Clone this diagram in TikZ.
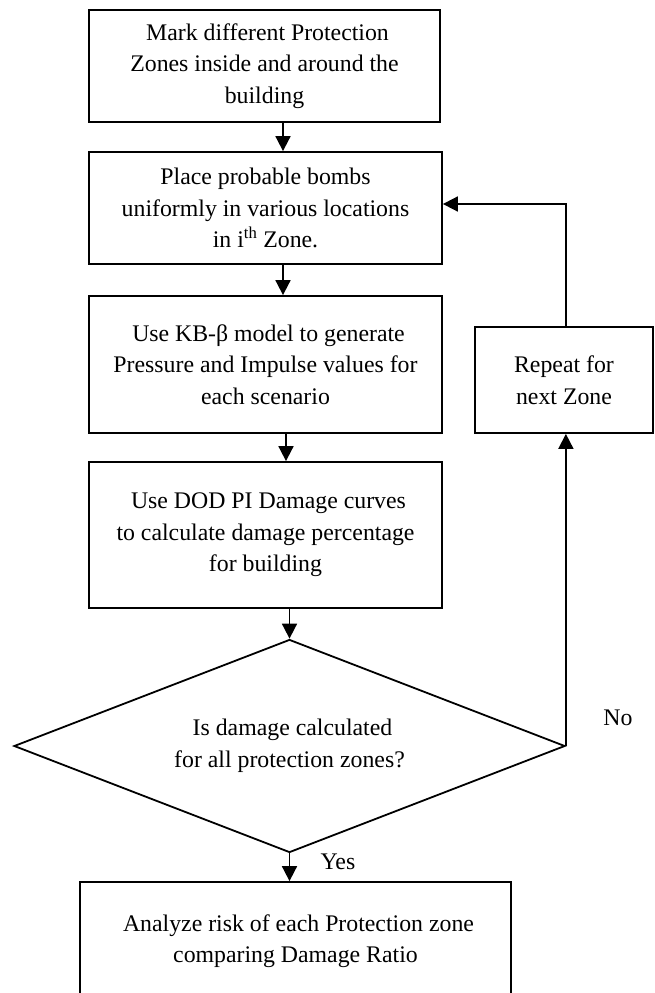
\documentclass[tikz,border=0pt]{standalone}
\usepackage{fontspec}
\setmainfont{Liberation Serif}
\usetikzlibrary{arrows.meta,shapes.geometric}
\begin{document}
\begin{tikzpicture}[x=1pt,y=-1pt,
  every node/.style={font=\fontsize{23.8}{31.5}\selectfont},
  box/.style={draw,line width=1.8pt,rectangle,align=center,inner sep=0pt},
  arr/.style={line width=1.8pt,-{Triangle[length=15pt,width=15pt]}}]
\useasboundingbox (0,0) rectangle (654,993);
\clip (0,0) rectangle (654,993);
\node[box,minimum width=351pt,minimum height=112pt] (b1) at (264.5,66)
  {\hspace*{6pt}Mark different Protection\\Zones inside and around the\\building};
\node[box,minimum width=353pt,minimum height=112pt] (b2) at (265.5,208)
  {Place probable bombs\\uniformly in various locations\\in i\textsuperscript{th} Zone.};
\node[box,minimum width=353pt,minimum height=137pt] (b3) at (265.5,364.5)
  {\hspace*{6pt}Use KB-β model to generate\\Pressure and Impulse values for\\each scenario};
\node[box,minimum width=353pt,minimum height=146pt] (b4) at (265.5,535)
  {\hspace*{6pt}Use DOD PI Damage curves\\to calculate damage percentage\\for building};
\node[box,minimum width=178pt,minimum height=106pt] (rep) at (564,380)
  {Repeat for\\next Zone};
\node[draw,diamond,aspect=2.587,line width=1.8pt,minimum width=551pt,minimum height=213pt,inner sep=0pt,align=center] (dec) at (289.5,746)
  {\hspace*{6pt}Is damage calculated\\for all protection zones?};
\node[box,minimum width=431pt,minimum height=118pt] (b5) at (295.5,941)
  {\hspace*{6pt}Analyze risk of each Protection zone\\comparing Damage Ratio};
\node (no) at (618,718) {No};
\node (yes) at (338,862) {Yes};
\coordinate (xa) at (283,0);
\coordinate (xb) at (286,0);
\draw[arr] (b1.south -| xa) -- (b2.north -| xa);
\draw[arr] (b2.south -| xa) -- (b3.north -| xa);
\draw[arr] (b3.south -| xb) -- (b4.north -| xb);
\draw[arr] (b4.south -| dec.north) -- (dec.north);
\draw[arr] (dec.south) -- (b5.north -| dec.south);
\draw[arr] (dec.east) -- (dec.east |- rep.south);
\draw[arr] (rep.north -| dec.east) -- ([yshift=4pt]b2.east -| dec.east) -- ([yshift=4pt]b2.east);
\end{tikzpicture}
\end{document}
